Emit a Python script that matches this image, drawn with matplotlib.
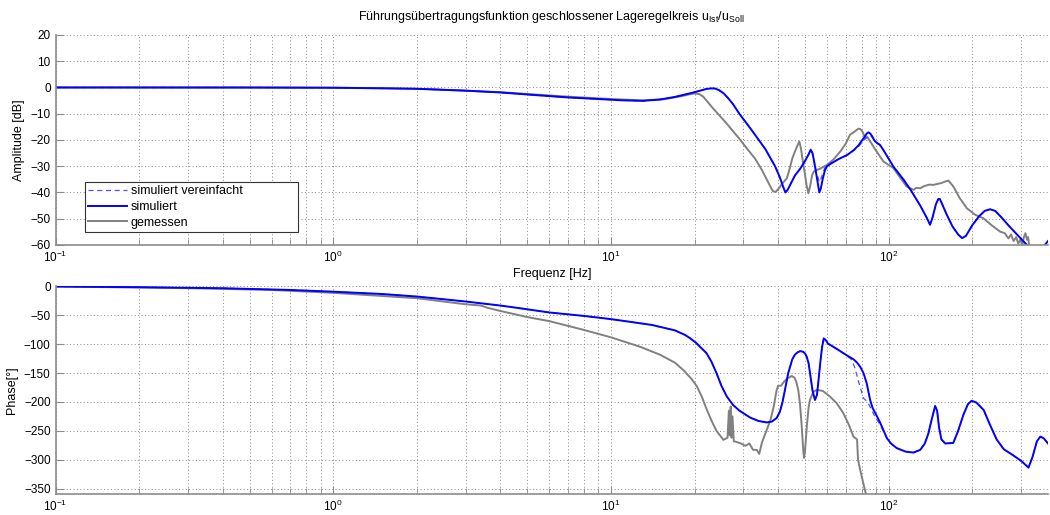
import numpy as np
import matplotlib
matplotlib.use('Agg')
import matplotlib.pyplot as plt
from matplotlib.ticker import LogLocator, NullFormatter, MultipleLocator

plt.rcParams['font.family'] = ['Liberation Sans', 'DejaVu Sans']
plt.rcParams['mathtext.fontset'] = 'custom'
plt.rcParams['mathtext.rm'] = 'Liberation Sans'

# --- amplitude, simuliert (Hz, dB)
amp_sim_f = [0.1, 0.5, 1.0, 1.5, 2.0, 3.0, 4.0, 5.5, 7.0, 9.0, 11.0, 13.0, 15.0, 17.0,
             19.5, 21.0, 22.0, 23.0, 23.7, 24.5, 25.5, 26.5, 27.5, 29.0, 32.0, 36.0, 39.0,
             40.5, 41.7, 42.5, 43.3, 44.5, 46.0, 48.0, 50.0, 51.5, 52.4, 53.2, 54.0, 55.0,
             56.3, 57.0, 58.0, 59.0, 60.0, 62.0, 66.0, 71.0, 75.0, 78.0, 80.0, 82.0, 83.5,
             84.6, 86.0, 87.5, 89.0, 91.0, 93.0, 96.0, 104.0, 113.0, 120.0, 130.0, 137.0,
             141.0, 144.0, 148.0, 151.0, 153.0, 156.0, 162.0, 170.0, 178.0, 184.0, 190.0,
             200.0, 212.0, 222.0, 232.0, 242.0, 255.0, 270.0, 290.0, 315.0, 335.0, 350.0,
             362.0, 375.0]
amp_sim_db = [0, 0, -0.1, -0.3, -0.5, -1.2, -1.9, -3.0, -3.8, -4.4, -4.9, -5.1, -4.6, -3.6,
              -2.1, -1.2, -0.6, -0.35, -0.4, -1.0, -2.3, -4.2, -6.3, -10.0, -16.0, -23.5,
              -30.0, -34.0, -37.8, -40.0, -39.0, -36.5, -33.5, -31.0, -28.0, -25.5, -23.7,
              -25.0, -28.5, -33.5, -40.0, -38.5, -34.5, -31.5, -30.0, -29.0, -27.3, -25.7,
              -23.8, -22.0, -20.3, -18.8, -17.5, -17.1, -17.6, -18.8, -20.3, -21.2, -21.8,
              -24.0, -30.1, -35.0, -39.0, -45.0, -49.5, -52.3, -49.5, -44.5, -42.5, -42.5,
              -44.5, -48.5, -53.0, -56.0, -57.4, -56.5, -52.5, -49.0, -47.0, -46.4, -47.0,
              -49.5, -52.5, -56.0, -60.0, -63.0, -63.5, -60.5, -58.5]

# --- amplitude, simuliert vereinfacht (differs around 55-95 Hz)
amp_simv_f = [0.1, 0.5, 1.0, 1.5, 2.0, 3.0, 4.0, 5.5, 7.0, 9.0, 11.0, 13.0, 15.0, 17.0,
              19.5, 21.0, 22.0, 23.0, 23.7, 24.5, 25.5, 26.5, 27.5, 29.0, 32.0, 36.0, 39.0,
              40.5, 41.7, 42.5, 43.3, 44.5, 46.0, 48.0, 50.0, 51.5, 52.4, 53.2, 54.0, 55.0,
              56.3, 57.0, 58.0, 59.0, 60.0, 62.0, 66.0, 71.0, 75.0, 78.0, 80.0, 82.5, 84.5,
              86.5, 88.5, 91.0, 93.0, 96.0, 104.0, 113.0, 120.0, 130.0, 137.0,
              141.0, 144.0, 148.0, 151.0, 153.0, 156.0, 162.0, 170.0, 178.0, 184.0, 190.0,
              200.0, 212.0, 222.0, 232.0, 242.0, 255.0, 270.0, 290.0, 315.0, 335.0, 350.0,
              362.0, 375.0]
amp_simv_db = [0, 0, -0.1, -0.3, -0.5, -1.2, -1.9, -3.0, -3.8, -4.4, -4.9, -5.1, -4.6, -3.6,
               -2.1, -1.2, -0.6, -0.35, -0.4, -1.0, -2.3, -4.2, -6.3, -10.0, -16.0, -23.5,
               -30.0, -34.0, -37.8, -40.0, -39.0, -36.5, -33.5, -31.0, -28.0, -25.5, -23.7,
               -25.0, -28.5, -32.5, -36.0, -35.0, -32.5, -30.5, -29.5, -28.8, -27.3, -25.7,
               -24.0, -22.5, -21.0, -19.5, -18.3, -18.6, -19.8, -21.3, -22.0,
               -24.0, -30.1, -35.0, -39.0, -45.0, -49.5, -52.3, -49.5, -44.5, -42.5, -42.5,
               -44.5, -48.5, -53.0, -56.0, -57.4, -56.5, -52.5, -49.0, -47.0, -46.4, -47.0,
               -49.5, -52.5, -56.0, -60.0, -63.0, -63.5, -60.5, -58.5]

# --- amplitude, gemessen
amp_mes_f = [0.1, 1.0, 2.0, 4.0, 7.0, 10.0, 13.0, 15.5, 18.0, 19.0, 20.0, 20.8, 21.5, 22.3,
             23.3, 25.0, 26.0, 27.6, 29.0, 30.8, 33.0, 35.0, 37.0, 38.3, 39.2, 40.2, 41.5,
             43.0, 44.0, 45.0, 46.0, 47.0, 47.7, 48.3, 49.0, 49.8, 50.6, 51.4, 52.2, 53.0,
             53.8, 55.0, 57.0, 60.0, 63.2, 67.0, 70.0, 72.6, 75.0, 77.8, 79.0, 80.5, 82.5,
             84.0, 87.0, 90.0, 95.8, 104.0, 116.0, 122.9, 126.0, 130.0, 134.0, 140.0, 145.0,
             155.0, 160.0, 164.3, 171.0, 180.0, 191.3, 205.0, 219.6, 235.0, 252.0, 262.0,
             270.0, 276.0, 282.0, 288.0, 293.0, 298.0, 303.0, 307.0, 311.0, 315.0, 318.0,
             322.0]
amp_mes_db = [0, -0.1, -0.5, -1.8, -3.5, -4.4, -4.9, -4.5, -3.3, -2.7, -2.3, -2.5, -3.5, -5.5,
              -7.9, -11.5, -13.5, -16.8, -19.5, -23.1, -27.0, -31.5, -36.5, -39.5, -39.8,
              -38.5, -36.5, -34.6, -31.0, -27.0, -24.4, -22.0, -20.6, -23.0, -27.5, -32.0,
              -37.0, -40.3, -37.5, -33.5, -32.0, -31.5, -30.8, -29.5, -27.5, -24.4, -21.5,
              -18.0, -17.0, -15.7, -15.8, -16.8, -19.4, -19.0, -21.5, -24.0, -28.2, -30.7,
              -37.7, -39.0, -38.2, -38.4, -37.6, -37.0, -37.1, -36.4, -35.8, -35.5, -37.7,
              -42.0, -46.0, -48.5, -49.8, -52.5, -54.9, -55.5, -57.5, -56.0, -58.5, -57.0,
              -59.5, -58.0, -60.0, -57.0, -55.5, -58.0, -57.0, -61.5]

# --- phase, simuliert (Hz, deg)
ph_sim_f = [0.1, 0.2, 0.4, 0.7, 1.0, 1.5, 2.0, 3.0, 4.0, 5.0, 6.0, 8.0, 10.0, 14.0, 17.0,
            18.5, 19.3, 20.3, 21.2, 22.1, 23.0, 24.0, 25.0, 26.1, 27.5, 29.0, 31.7, 34.0,
            36.4, 38.0, 39.5, 40.6, 41.5, 42.5, 43.5, 44.2, 45.0, 46.0, 47.0, 48.0, 49.2,
            50.0, 50.7, 51.5, 52.3, 53.2, 54.3, 55.2, 56.0, 56.8, 57.6, 58.4, 59.2, 60.5,
            62.0, 66.0, 70.0, 74.7, 77.0, 79.0, 81.2, 83.4, 85.8, 87.5, 89.6, 91.5, 93.4,
            96.0, 98.6, 102.0, 107.0, 115.0, 122.9, 130.0, 135.0, 139.0, 143.0, 147.1,
            149.5, 152.0, 155.0, 160.0, 171.0, 178.0, 186.0, 193.0, 199.0, 207.0, 220.0,
            232.0, 245.0, 260.0, 280.0, 300.0, 319.0, 330.0, 342.0, 352.0, 362.0, 375.0]
ph_sim_deg = [0, -1.2, -3, -6, -9, -13, -17.4, -26, -33, -39.5, -45, -51, -56.5, -66.5, -76,
              -84, -89.7, -98, -107, -115.6, -130, -150, -172, -190, -205, -215, -227, -233,
              -235.5, -234, -228, -217, -200, -175, -150, -138.8, -126, -118, -114, -112,
              -113, -116, -121.5, -133, -155, -180, -196.5, -188, -160, -130, -105, -90, -92,
              -99, -102, -110, -118, -126, -132, -139, -150, -167.6, -196.5, -210, -219.5,
              -228, -236.8, -250, -262.8, -272, -280, -286, -287.7, -283, -272, -255, -230,
              -207, -215, -245, -265, -272, -271, -250, -222, -204, -198, -201, -214, -240,
              -265, -282, -292, -302, -313.7, -295, -268, -260, -263, -272]

# --- phase, simuliert vereinfacht
ph_simv_f = [0.1, 0.2, 0.4, 0.7, 1.0, 1.5, 2.0, 3.0, 4.0, 5.0, 6.0, 8.0, 10.0, 14.0, 17.0,
             18.5, 19.3, 20.3, 21.2, 22.1, 23.0, 24.0, 25.0, 26.1, 27.5, 29.0, 31.7, 34.0,
             36.4, 38.0, 39.5, 40.6, 41.5, 42.5, 43.5, 44.2, 45.0, 46.0, 47.0, 48.0, 49.2,
             50.0, 50.7, 51.5, 52.3, 53.2, 54.3, 55.2, 56.0, 56.8, 57.6, 58.4, 59.2, 60.5,
             62.0, 66.0, 70.0, 73.3, 75.5, 78.0, 81.2, 84.0, 86.5, 88.5, 90.5, 93.4,
             96.0, 98.6, 102.0, 107.0, 115.0, 122.9, 130.0, 135.0, 139.0, 143.0, 147.1,
             149.5, 152.0, 155.0, 160.0, 171.0, 178.0, 186.0, 193.0, 199.0, 207.0, 220.0,
             232.0, 245.0, 260.0, 280.0, 300.0, 319.0, 330.0, 342.0, 352.0, 362.0, 375.0]
ph_simv_deg = [0, -1.2, -3, -6, -9, -13, -17.4, -26, -33, -39.5, -45, -51, -56.5, -66.5, -76,
               -84, -89.7, -98, -107, -115.6, -130, -150, -172, -190, -205, -215, -227, -233,
               -235.5, -234, -228, -217, -200, -175, -150, -138.8, -126, -118, -114, -112,
               -113, -116, -121.5, -133, -155, -180, -196.5, -188, -160, -130, -105, -90, -92,
               -99, -102, -110, -118, -126, -140, -165, -193.5, -200, -212, -222, -230,
               -240, -252, -262.8, -272, -280, -286, -287.7, -283, -272, -255, -230,
               -207, -215, -245, -265, -272, -271, -250, -222, -204, -198, -201, -214, -240,
               -265, -282, -292, -302, -313.7, -295, -268, -260, -263, -272]

# --- phase, gemessen
ph_mes_f = [0.1, 0.3, 0.6, 1.0, 2.0, 3.0, 3.4, 3.6, 4.0, 5.0, 6.0, 8.0, 10.0, 12.7, 15.0,
            17.0, 18.2, 19.5, 20.4, 21.3, 22.0, 23.0, 24.0, 25.4, 26.3, 26.6, 26.8, 27.0,
            27.2, 27.4, 27.7, 29.2, 30.5, 31.5, 32.5, 33.5, 34.2, 35.0, 36.4, 37.5, 38.5,
            39.5, 40.0, 41.0, 42.0, 43.0, 44.8, 45.8, 46.5, 47.3, 48.0, 48.7, 49.3, 49.6,
            50.0, 50.8, 51.5, 52.1, 53.5, 55.1, 58.0, 61.5, 65.0, 68.7, 72.0, 74.7, 77.0,
            77.6, 79.0, 81.0, 83.4, 86.0]
ph_mes_deg = [0, -2.9, -6, -11, -20.3, -30.8, -33, -37, -42.4, -53, -60, -75.3, -88, -104.2,
              -118, -132, -144.5, -160, -173, -192, -210, -232, -250, -265.7, -262, -215,
              -258, -208, -262, -225, -268, -271.4, -276, -272, -283, -283, -290, -270,
              -248.4, -232, -210, -180, -172, -172, -165, -160, -155, -158, -165, -180, -205,
              -245, -285, -297, -285, -240, -210, -196.5, -183, -179, -181, -190.8, -202,
              -219.5, -240, -260, -265, -300, -317.6, -340, -365, -400]

blue = '#0000ff'
grey = '#808080'
axc = '#8c8c8c'

fig = plt.figure(figsize=(10.5, 5.15), dpi=100)
ax1 = fig.add_axes([0.0529, 0.5243, 0.9452, 0.4078])
ax2 = fig.add_axes([0.0529, 0.0402, 0.9452, 0.4035])

l_mes, = ax1.semilogx(amp_mes_f, amp_mes_db, color=grey, lw=1.4)
l_simv, = ax1.semilogx(amp_simv_f, amp_simv_db, color='#5050ff', lw=0.9, ls=(0, (4, 3)))
l_sim, = ax1.semilogx(amp_sim_f, amp_sim_db, color=blue, lw=1.4)

ax2.semilogx(ph_mes_f, ph_mes_deg, color=grey, lw=1.4)
ax2.semilogx(ph_simv_f, ph_simv_deg, color='#5050ff', lw=0.9, ls=(0, (4, 3)))
ax2.semilogx(ph_sim_f, ph_sim_deg, color=blue, lw=1.4)

ax1.set_ylim(-60, 20)
ax1.yaxis.set_major_locator(MultipleLocator(10))
ax2.set_ylim(-360, 0)
ax2.set_yticks(np.arange(-350, 1, 50))

gridstyle = dict(ls=(0, (1, 2.5)), color='#8a8a8a', lw=0.7)
for ax in (ax1, ax2):
    ax.set_xlim(0.1, 375)
    ax.xaxis.set_major_locator(LogLocator(base=10, numticks=10))
    ax.xaxis.set_minor_locator(LogLocator(base=10, subs=np.arange(2, 10), numticks=20))
    ax.xaxis.set_minor_formatter(NullFormatter())
    ax.grid(True, which='major', **gridstyle)
    ax.grid(True, which='minor', axis='x', **gridstyle)
    ax.spines['top'].set_visible(False)
    ax.spines['right'].set_visible(False)
    ax.spines['left'].set_color(axc)
    ax.spines['bottom'].set_color(axc)
    ax.spines['left'].set_linewidth(1.2)
    ax.spines['bottom'].set_linewidth(1.2)
    ax.tick_params(which='both', direction='in', color=axc, labelsize=8.5)
    ax.tick_params(which='major', length=6)
    ax.tick_params(which='minor', length=4)

ax1.set_ylabel('Amplitude [dB]', fontsize=9)
ax1.set_xlabel('Frequenz [Hz]', fontsize=9, labelpad=2)
ax2.set_ylabel('Phase[°]', fontsize=9)
ax1.set_title('Führungsübertragungsfunktion geschlossener Lageregelkreis '
              r'u$_{\mathrm{Ist}}$/u$_{\mathrm{Soll}}$', fontsize=9, pad=11)

leg = ax1.legend([l_simv, l_sim, l_mes],
                 ['simuliert vereinfacht', 'simuliert', 'gemessen'],
                 loc='lower left', bbox_to_anchor=(0.0297, 0.062, 0.2146, 0.27),
                 mode='expand', borderaxespad=0, fontsize=9,
                 fancybox=False, framealpha=1, edgecolor='#333333',
                 handlelength=3.1, handletextpad=0.3, borderpad=0.25, labelspacing=0.3)
leg.get_frame().set_linewidth(0.8)

fig.savefig('out.png', dpi=100)
